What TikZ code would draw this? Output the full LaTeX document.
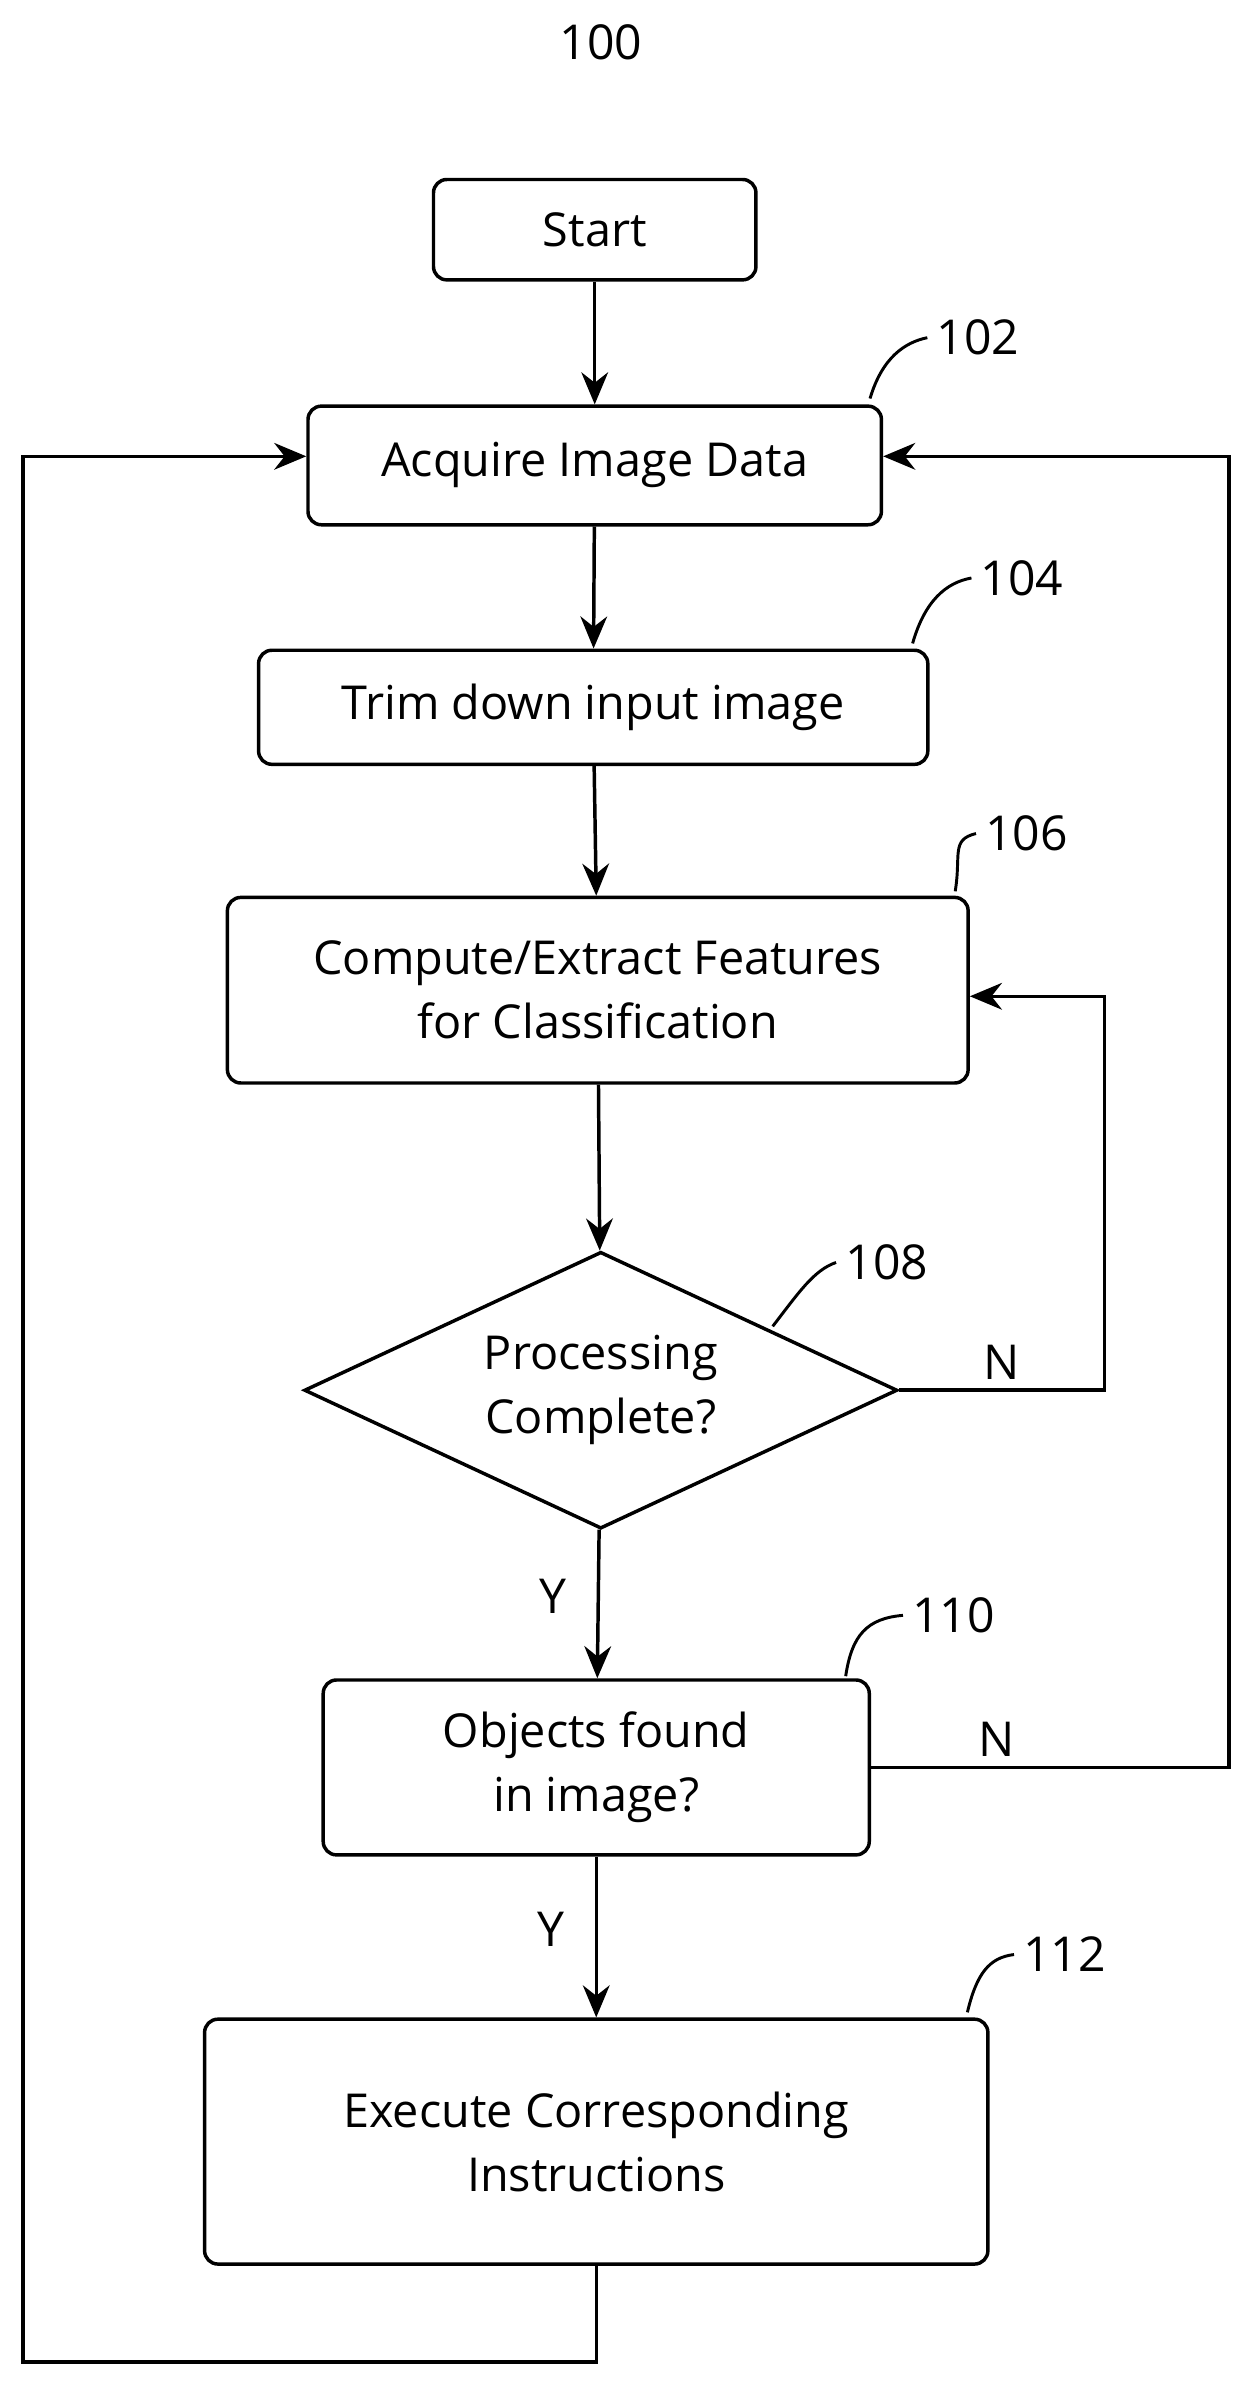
\documentclass[tikz,border=0pt]{standalone}
\usepackage{fontspec}
\setmainfont{Open Sans}
\usetikzlibrary{shapes.geometric,arrows.meta}
\tikzset{
  box/.style={draw, line width=1.3pt, rounded corners=5pt, align=center, font=\fontsize{17.5}{24}\selectfont},
  flow/.style={line width=1.3pt, -{Stealth[length=12pt,width=10pt]}},
  tag/.style={font=\fontsize{18}{20}\selectfont},
  lead/.style={line width=1.1pt}
}
\begin{document}
\begin{tikzpicture}[x=0.02cm,y=-0.02cm]
    % page frame
    \useasboundingbox (0,0) rectangle (825,1570);

    % Figure number
    \node[tag] (fig) at (395,28) {100};

    % Steps
    \node[box, minimum width=212*0.02cm, minimum height=66*0.02cm] (start) at (391,151) {Start};
    \node[box, minimum width=377*0.02cm, minimum height=78*0.02cm] (acquire) at (391,306) {Acquire Image Data};
    \node[box, minimum width=440*0.02cm, minimum height=75*0.02cm] (trim) at (390,465) {Trim down input image};
    \node[box, minimum width=487*0.02cm, minimum height=122*0.02cm] (compute) at (393,651) {Compute/Extract Features\\for Classification};
    \node[draw, line width=1.3pt, diamond, aspect=2.15, minimum width=390*0.02cm, minimum height=182*0.02cm, inner sep=0pt, align=center, font=\fontsize{17.5}{24}\selectfont] (done) at (395,914) {Processing\\Complete?};
    \node[box, minimum width=359*0.02cm, minimum height=115*0.02cm] (found) at (392,1162) {Objects found\\in image?};
    \node[box, minimum width=515*0.02cm, minimum height=161*0.02cm] (execute) at (392,1408) {Execute Corresponding\\Instructions};

    % Main flow
    \draw[flow] (start) -- (acquire);
    \draw[flow] (acquire) -- (trim);
    \draw[flow] (trim) -- (compute);
    \draw[flow] (compute) -- (done);
    \draw[flow] (done) -- node[pos=0.45, left=8pt, tag] {Y} (found);
    \draw[flow] (found) -- node[pos=0.45, left=8pt, tag] {Y} (execute);

    % Loops back
    \draw[flow] (done.east) -- node[above, tag] {N} (done.east -| 726,0) |- (compute.east |- 0,655);
    \draw[flow] (found.east) -- node[above, tag, pos=0.35] {N} (808,1162) |- (acquire.east |- 0,300);
    \draw[flow] (execute.south) -- (392,1553) -| (15,300) -- (acquire.west |- 0,300);

    % Reference numerals
    \node[tag] (n102) at (643,222) {102};
    \node[tag] (n104) at (672,380) {104};
    \node[tag] (n106) at (675,548) {106};
    \node[tag] (n108) at (583,830) {108};
    \node[tag] (n110) at (627,1062) {110};
    \node[tag] (n112) at (700,1285) {112};
    \draw[lead] (572,262) .. controls (580,235) and (595,225) .. (n102.west);
    \draw[lead] (600,423) .. controls (608,395) and (622,383) .. (n104.west);
    \draw[lead] (628,586) .. controls (632,562) and (625,552) .. (n106.west);
    \draw[lead] (508,872) .. controls (525,850) and (535,835) .. (n108.west);
    \draw[lead] (556,1102) .. controls (560,1075) and (570,1064) .. (n110.west);
    \draw[lead] (636,1323) .. controls (642,1298) and (650,1287) .. (n112.west);
\end{tikzpicture}
\end{document}
